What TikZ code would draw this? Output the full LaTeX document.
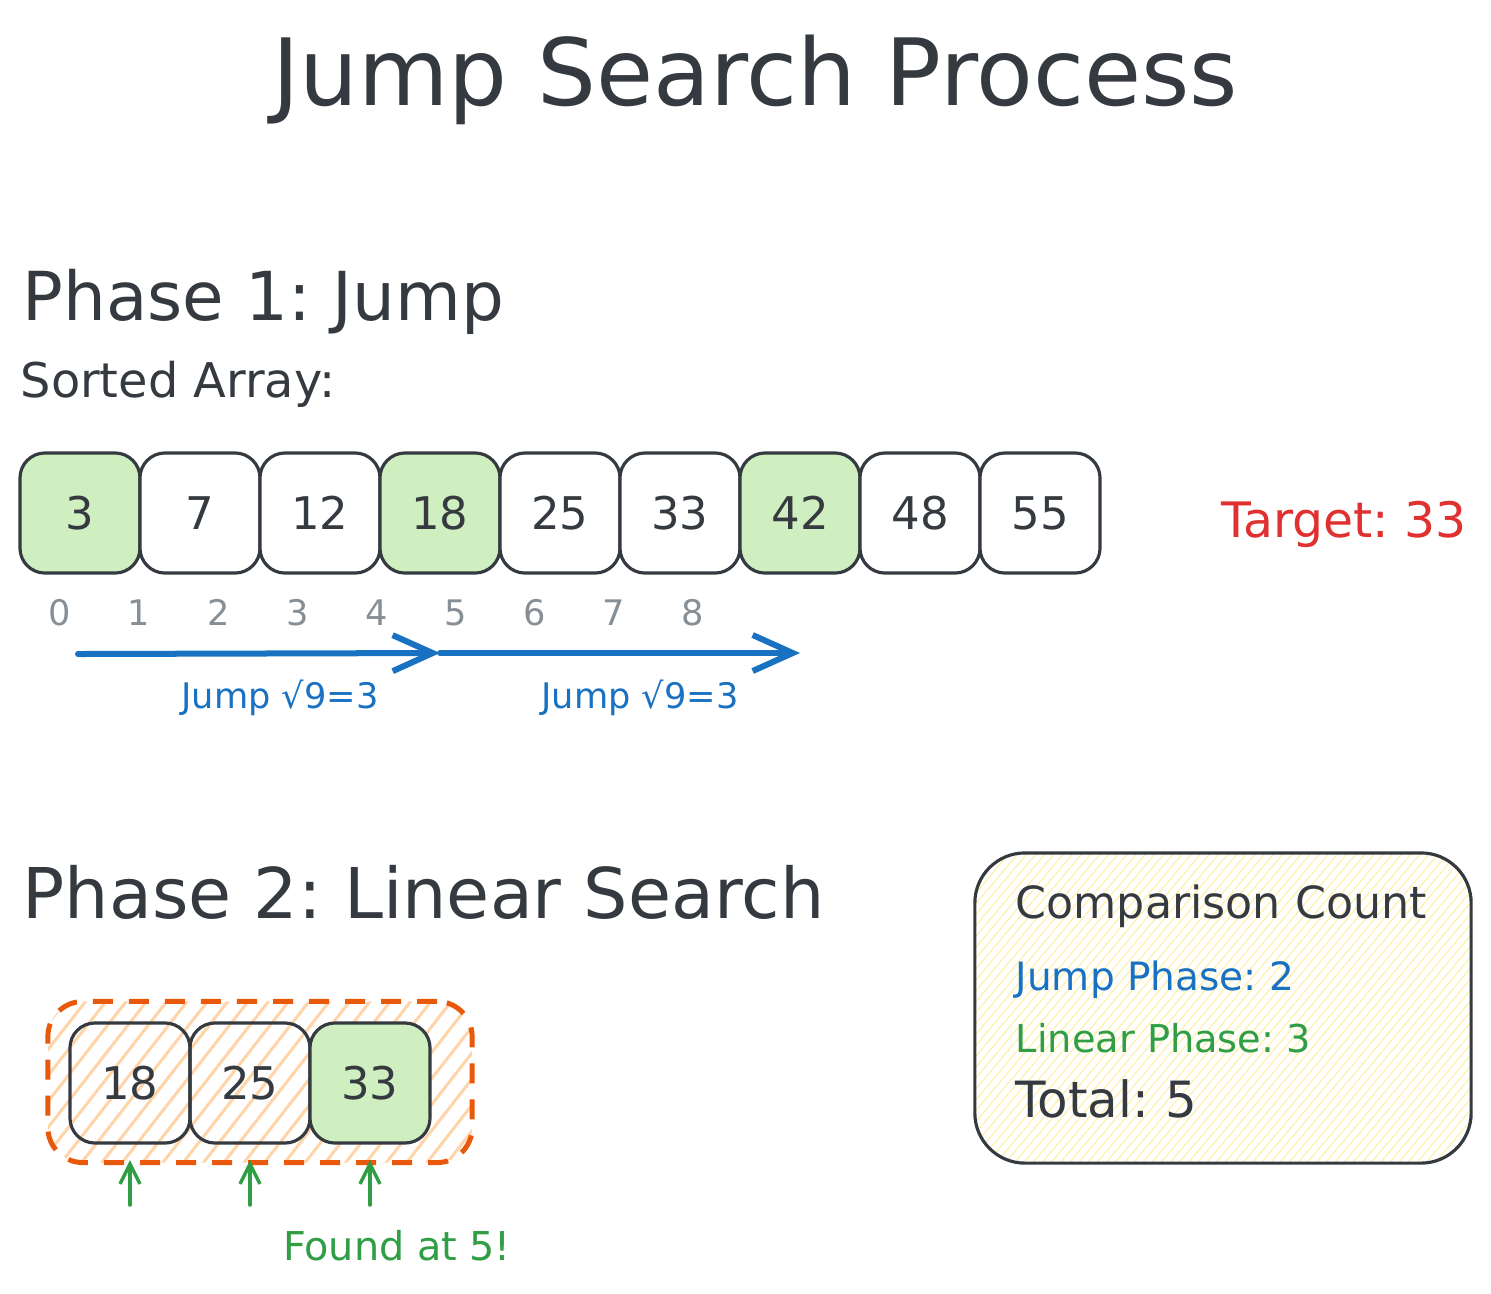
\documentclass[tikz,border=0pt]{standalone}
\usepackage{fontspec}
\setmainfont{DejaVu Sans}
\usepackage{tikz}
\usetikzlibrary{arrows.meta,patterns.meta,positioning}
\usepackage{xcolor}
\definecolor{ink}{HTML}{343A40}
\definecolor{hitgreen}{HTML}{D0EFC1}
\definecolor{jumpblue}{HTML}{1971C2}
\definecolor{targetred}{HTML}{E03131}
\definecolor{foundgreen}{HTML}{2F9E44}
\definecolor{zoneorange}{HTML}{E8590C}
\definecolor{hatchorange}{HTML}{FFD4A8}
\definecolor{hatchyellow}{HTML}{FFEFA8}
\definecolor{idxgray}{HTML}{868E96}
\frenchspacing

\begin{document}
\begin{tikzpicture}[x=0.01cm, y=-0.01cm, every node/.style={text=ink, inner sep=0pt},
  cell/.style={draw=ink, line width=0.9pt, rounded corners=0.25cm,
    minimum width=1.2cm, minimum height=1.2cm,
    font=\fontsize{12.8}{14}\selectfont},
  idx/.style={text=idxgray, anchor=base, font=\fontsize{10}{12}\selectfont},
  jump/.style={jumpblue, line width=0.06cm, line cap=round,
    -{Straight Barb[length=0.4cm, width=0.36cm]}},
  probe/.style={foundgreen, line width=0.035cm, line cap=round,
    -{Straight Barb[length=0.2cm, width=0.2cm]}}]

\useasboundingbox (0,0) rectangle (1491,1293);

% =================== title ===================
\node[anchor=base, font=\fontsize{26.4}{30}\selectfont] (title) at (755,105) {Jump Search Process};

% =================== phase 1: jump ===================
\node[anchor=base west, font=\fontsize{19.2}{22}\selectfont] (ph1) at (22,320) {Phase 1: Jump};
\node[anchor=base west, font=\fontsize{13.6}{16}\selectfont] (sorted) at (20,397) {Sorted Array:};

% array cells, jump targets in green
\foreach \i/\v/\fc in {0/3/hitgreen, 1/7/white, 2/12/white, 3/18/hitgreen, 4/25/white,
                       5/33/white, 6/42/hitgreen, 7/48/white, 8/55/white}{
  \node[cell, fill=\fc] (c\i) at (80+120*\i,513) {\v};
}

% index row
\foreach \i in {0,...,8}{
  \node[idx] (n\i) at (60+79.1*\i,625) {\i};
}

\node[anchor=base, text=targetred, font=\fontsize{13.9}{16}\selectfont] (target) at (1344,537) {Target: 33};

% jump arrows
\coordinate (j0) at (78,654);
\coordinate (j1) at (440,653);
\coordinate (j2) at (800,653);
\draw[jump] (j0) -- (j1);
\draw[jump] (j1) -- (j2);
\node[anchor=base, text=jumpblue, font=\fontsize{10}{12}\selectfont] (lab1) at (280,708) {Jump √9=3};
\node[anchor=base, text=jumpblue, font=\fontsize{10}{12}\selectfont] (lab2) at (640,708) {Jump √9=3};

% =================== phase 2: linear search ===================
\node[anchor=base west, font=\fontsize{19.9}{22}\selectfont] (ph2) at (22,918) {Phase 2: Linear Search};

% search block (dashed, hatched)
\node[draw=zoneorange, line width=0.05cm, dash pattern=on 0.2cm off 0.16cm,
      rounded corners=0.35cm, minimum width=4.24cm, minimum height=1.61cm,
      pattern={Lines[angle=52, distance=0.16cm, line width=0.03cm]},
      pattern color=hatchorange] (zone) at (260,1082) {};

\foreach \i/\v in {0/18, 1/25}{
  \node[cell] (d\i) at (130+120*\i,1083) {\v};
}
\node[cell, fill=hitgreen] (d2) at (370,1083) {33};

% linear probes
\foreach \i in {0,1,2}{
  \coordinate (s\i) at (130+120*\i,1205);
  \coordinate (t\i) at (130+120*\i,1160);
  \draw[probe] (s\i) -- (t\i);
}
\node[anchor=base, text=foundgreen, font=\fontsize{11.3}{13}\selectfont] (found) at (397,1260) {Found at 5!};

% =================== comparison count ===================
\node[draw=ink, line width=0.9pt, rounded corners=0.5cm,
      minimum width=4.96cm, minimum height=3.1cm,
      pattern={Lines[angle=50, distance=0.07cm, line width=0.012cm]},
      pattern color=hatchyellow] (count) at (1223,1008) {};
\node[anchor=base west, font=\fontsize{12.6}{15}\selectfont] (cmp) at (1015,918) {Comparison Count};
\node[anchor=base west, text=jumpblue, font=\fontsize{11.1}{13}\selectfont] (cj) at (1015,990) {Jump Phase: 2};
\node[anchor=base west, text=foundgreen, font=\fontsize{10.9}{13}\selectfont] (cl) at (1015,1052) {Linear Phase: 3};
\node[anchor=base west, font=\fontsize{14.2}{17}\selectfont] (ct) at (1015,1117) {Total: 5};

\end{tikzpicture}
\end{document}
